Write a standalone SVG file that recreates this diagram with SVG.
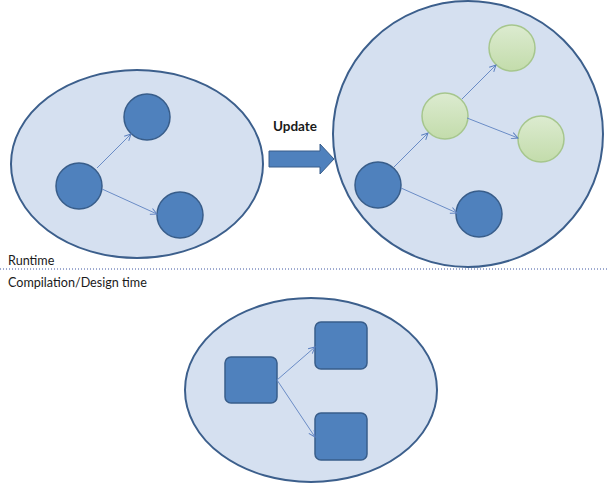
<svg xmlns="http://www.w3.org/2000/svg" width="609" height="486" viewBox="0 0 609 486">
  <defs>
    <linearGradient id="greenFill" x1="0" y1="0" x2="0" y2="1">
      <stop offset="0" stop-color="#dcebd0"/>
      <stop offset="1" stop-color="#c3dcab"/>
    </linearGradient>
    <marker id="openArrow" viewBox="0 0 10 10" refX="9" refY="5" markerWidth="8" markerHeight="8" orient="auto" markerUnits="userSpaceOnUse">
      <path d="M1,1 L9,5 L1,9" fill="none" stroke="#5b7fbf" stroke-width="1.2"/>
    </marker>
    <style>
      .region { fill: #d5e0f0; stroke: #3c5f8c; stroke-width: 2; }
      .blue { fill: #4f81bd; stroke: #385d8a; stroke-width: 1.5; }
      .green { fill: url(#greenFill); stroke: #a6c68d; stroke-width: 1.5; }
      .link { fill: none; stroke: #6a8cc6; stroke-width: 1; marker-end: url(#openArrow); }
      .label { font-family: "Lato", "Liberation Sans", sans-serif; font-size: 12.6px; fill: #1a1a1a; }
    </style>
  </defs>

  <rect width="609" height="486" fill="#ffffff"/>

  <!-- runtime graph before the update -->
  <g id="before">
    <ellipse class="region" cx="137" cy="164" rx="126" ry="94"/>
  </g>
  <g id="before-a"><circle class="blue" cx="147" cy="117" r="23"/></g>
  <g id="before-b"><circle class="blue" cx="79" cy="186" r="23"/></g>
  <g id="before-c"><circle class="blue" cx="180" cy="215" r="23"/></g>

  <!-- update arrow -->
  <g id="update">
    <path d="M269,151 H320 V144 L334,159 L320,174 V167 H269 Z" fill="#4f81bd" stroke="#385d8a" stroke-width="1"/>
    <text x="295" y="131" text-anchor="middle" font-family="Lato, 'Liberation Sans', sans-serif" font-weight="bold" font-size="13.5" fill="#1a1a1a">Update</text>
  </g>

  <!-- runtime graph after the update -->
  <g id="after">
    <ellipse class="region" cx="468" cy="134" rx="135" ry="133"/>
  </g>
  <g id="after-a"><circle class="blue" cx="378" cy="185" r="23"/></g>
  <g id="after-b"><circle class="blue" cx="479" cy="214" r="23"/></g>
  <g id="after-c"><circle class="green" cx="445" cy="116" r="23"/></g>
  <g id="after-d"><circle class="green" cx="512" cy="48" r="23"/></g>
  <g id="after-e"><circle class="green" cx="541" cy="139" r="23"/></g>

  <!-- runtime / design time divider -->
  <g id="divider">
    <line x1="0" y1="269" x2="609" y2="269" stroke="#3d54a0" stroke-width="1" stroke-dasharray="1 2"/>
    <text class="label" x="8" y="265">Runtime</text>
    <text class="label" x="8" y="287">Compilation/Design time</text>
  </g>

  <!-- design-time model -->
  <g id="design">
    <ellipse class="region" cx="311" cy="390" rx="126" ry="92"/>
  </g>
  <g id="design-a"><rect class="blue" x="225" y="357" width="52" height="46" rx="6"/></g>
  <g id="design-b"><rect class="blue" x="315" y="322" width="52" height="47" rx="6"/></g>
  <g id="design-c"><rect class="blue" x="315" y="413" width="52" height="47" rx="6"/></g>

  <!-- connectors -->
  <g id="connectors">
    <line class="link" x1="97" y1="168" x2="131" y2="134"/>
    <line class="link" x1="102" y1="189" x2="157" y2="214"/>
    <line class="link" x1="394" y1="167" x2="428" y2="133"/>
    <line class="link" x1="462" y1="99" x2="496" y2="65"/>
    <line class="link" x1="467" y1="118" x2="518" y2="138"/>
    <line class="link" x1="401" y1="188" x2="457" y2="213"/>
    <line class="link" x1="277" y1="380" x2="315" y2="347"/>
    <line class="link" x1="277" y1="380" x2="315" y2="437"/>
  </g>
</svg>
